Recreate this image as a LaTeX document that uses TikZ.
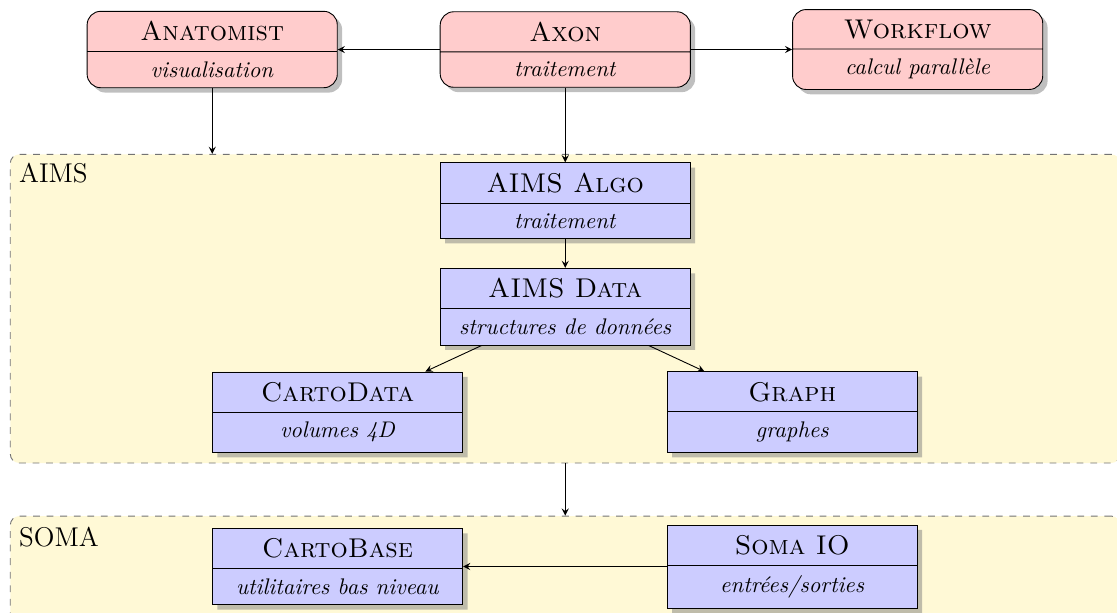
\documentclass[tikz,border=0pt]{standalone}
\usetikzlibrary{shapes.multipart,shadows,positioning}
\definecolor{regionfill}{RGB}{255,249,214}
\begin{document}
\begin{tikzpicture}[
    toolstyle/.style={rectangle split, rectangle split parts=2, draw, fill=red!20, rounded corners=6pt, drop shadow, minimum width=3.89cm, inner ysep=4.3pt},
    libstyle/.style={rectangle split, rectangle split parts=2, draw, fill=blue!20, drop shadow, minimum width=3.89cm, inner ysep=4.3pt},
    regionstyle/.style={rectangle, draw=black!55, dashed, fill=regionfill, rounded corners=4pt, minimum width=17.26cm},
    labelstyle/.style={anchor=north west, font=\large},
    arrowstyle/.style={->, >=stealth}
]
    \useasboundingbox (0,0) rectangle (17.37,-9.52);

    % regions
    \node[regionstyle, minimum height=4.80cm] (aims) at (8.79,-4.80) {};
    \node[regionstyle, minimum height=1.75cm] (soma) at (8.79,-8.90) {};
    \node[labelstyle] (aimslabel) at ([shift={(0.02,-0.02)}]aims.north west) {AIMS};
    \node[labelstyle] (somalabel) at ([shift={(0.02,-0.06)}]soma.north west) {SOMA};

    % tools
    \node[toolstyle] (anatomist) at (3.30,-0.77) {{\large\textsc{Anatomist}} \nodepart{two} \textit{visualisation}};
    \node[toolstyle] (axon) at (8.79,-0.77) {{\large\textsc{Axon}} \nodepart{two} \textit{traitement}};
    \node[toolstyle] (workflow) at (14.27,-0.77) {{\large\textsc{Workflow}} \nodepart{two} \textit{calcul parallèle}};

    % libraries
    \node[libstyle] (algo) at (8.79,-3.12) {{\large\textsc{AIMS Algo}} \nodepart{two} \textit{traitement}};
    \node[libstyle] (data) at (8.79,-4.77) {{\large\textsc{AIMS Data}} \nodepart{two} \textit{structures de données}};
    \node[libstyle] (cartodata) at (5.25,-6.41) {{\large\textsc{CartoData}} \nodepart{two} \textit{volumes 4D}};
    \node[libstyle] (graph) at (12.32,-6.41) {{\large\textsc{Graph}} \nodepart{two} \textit{graphes}};
    \node[libstyle] (cartobase) at (5.25,-8.81) {{\large\textsc{CartoBase}} \nodepart{two} \textit{utilitaires bas niveau}};
    \node[libstyle] (somaio) at (12.32,-8.81) {{\large\textsc{Soma IO}} \nodepart{two} \textit{entrées/sorties}};

    \draw[arrowstyle] (axon) -- (anatomist);
    \draw[arrowstyle] (axon) -- (workflow);
    \draw[arrowstyle] (anatomist) -- (anatomist |- aims.north);
    \draw[arrowstyle] (axon) -- (algo);
    \draw[arrowstyle] (algo) -- (data);
    \draw[arrowstyle] (data) -- (cartodata);
    \draw[arrowstyle] (data) -- (graph);
    \draw[arrowstyle] (aims) -- (soma);
    \draw[arrowstyle] (somaio) -- (cartobase);
\end{tikzpicture}
\end{document}
